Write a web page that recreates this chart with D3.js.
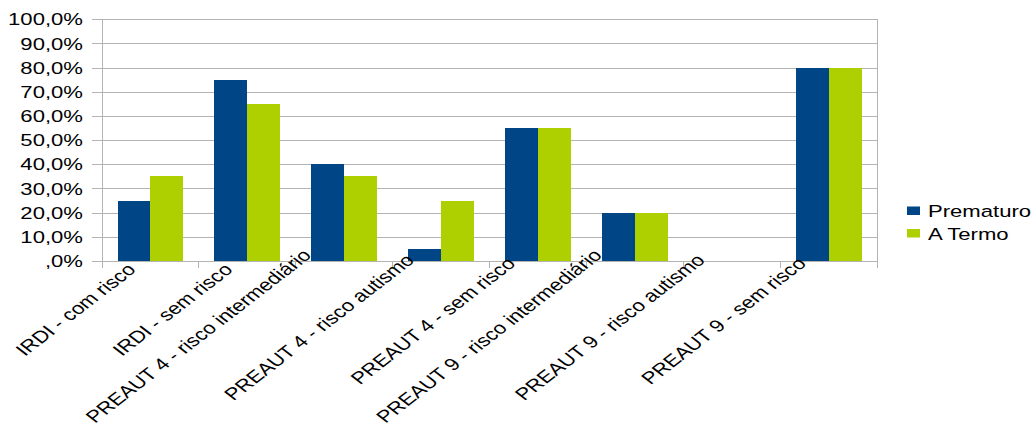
<!DOCTYPE html>
<html>
<head>
<meta charset="utf-8">
<script src="https://cdn.jsdelivr.net/npm/d3@7"></script>
<style>
  html, body { margin: 0; padding: 0; background: #ffffff; }
  svg { display: block; }
  text { font-family: "Liberation Sans", Arial, sans-serif; fill: #000; }
</style>
</head>
<body>
<svg id="chart" width="1036" height="429"></svg>
<script>
// Categories along the x axis
const categories = [
  "IRDI - com risco",
  "IRDI - sem risco",
  "PREAUT 4 - risco intermediário",
  "PREAUT 4 - risco autismo",
  "PREAUT 4 - sem risco",
  "PREAUT 9 - risco intermediário",
  "PREAUT 9 - risco autismo",
  "PREAUT 9 - sem risco"
];
// Series (percent)
const seriesNames = ["Prematuro", "A Termo"];
const prematuro = [25, 75, 40, 5, 55, 20, 0, 80];
const aTermo = [35, 65, 35, 25, 55, 20, 0, 80];
const seriesColors = ["#004586", "#aecf00"];
// Y axis ticks
const yTicks = [0, 10, 20, 30, 40, 50, 60, 70, 80, 90, 100];
const yTickLabels = [",0%", "10,0%", "20,0%", "30,0%", "40,0%", "50,0%", "60,0%", "70,0%", "80,0%", "90,0%", "100,0%"];

const seriesValues = [prematuro, aTermo];

const svg = d3.select("#chart");
const plot = { left: 102, right: 877, top: 19.3, bottom: 261 };
const stretch = 1.3;       // horizontal stretch applied to all text
const fontSize = 17;
const gridColor = "#b3b3b3";

const x = d3.scaleBand().domain(categories).range([plot.left, plot.right]).paddingInner(0).paddingOuter(0);
const bw = x.bandwidth();
const x1 = d3.scaleBand().domain(seriesNames).range([bw * 0.16, bw * 0.84]).padding(0);
const y = d3.scaleLinear().domain([0, 100]).range([plot.bottom, plot.top]);

// Horizontal gridlines + y tick marks
const yAxis = d3.axisLeft(y).tickValues(yTicks).tickSize(10).tickFormat("");
const gy = svg.append("g").attr("transform", `translate(${plot.left},0)`).call(yAxis);
gy.select(".domain").remove();
gy.selectAll(".tick line").attr("stroke", gridColor).attr("shape-rendering", "crispEdges");
gy.selectAll(".tick").append("line")
  .attr("x1", 0).attr("x2", plot.right - plot.left)
  .attr("stroke", gridColor).attr("shape-rendering", "crispEdges");

// y tick labels
svg.append("g").selectAll("text")
  .data(yTicks)
  .join("text")
  .attr("transform", d => `translate(83,${y(d)}) scale(${stretch},1)`)
  .attr("text-anchor", "end")
  .attr("dy", "0.36em")
  .style("font-size", fontSize + "px")
  .text((d, i) => yTickLabels[i]);

// Left axis line and right border
[plot.left, plot.right].forEach(px => {
  svg.append("line")
    .attr("x1", px).attr("x2", px)
    .attr("y1", plot.top).attr("y2", plot.bottom)
    .attr("stroke", gridColor).attr("shape-rendering", "crispEdges");
});

// Category boundary ticks under the x axis
const bounds = categories.map(c => x(c)).concat([plot.right]);
svg.append("g").selectAll("line")
  .data(bounds)
  .join("line")
  .attr("x1", d => d).attr("x2", d => d)
  .attr("y1", plot.bottom).attr("y2", plot.bottom + 7)
  .attr("stroke", gridColor).attr("shape-rendering", "crispEdges");

// Bars
const groups = svg.append("g").selectAll("g")
  .data(categories)
  .join("g")
  .attr("transform", c => `translate(${x(c)},0)`);
groups.selectAll("rect")
  .data((c, i) => seriesNames.map((s, k) => ({ s, v: seriesValues[k][i], k })))
  .join("rect")
  .attr("x", d => x1(d.s))
  .attr("width", x1.bandwidth())
  .attr("y", d => y(d.v))
  .attr("height", d => y(0) - y(d.v))
  .attr("fill", d => seriesColors[d.k])
  .attr("shape-rendering", "crispEdges");

// X axis line
svg.append("line")
  .attr("x1", plot.left).attr("x2", plot.right)
  .attr("y1", plot.bottom).attr("y2", plot.bottom)
  .attr("stroke", gridColor).attr("shape-rendering", "crispEdges");

// Rotated category labels (longer labels sit further up-left)
const xl = svg.append("g");
xl.selectAll("text")
  .data(categories)
  .join("text")
  .style("font-size", fontSize + "px")
  .attr("text-anchor", "end")
  .text(d => d)
  .each(function (d) {
    const w = this.getComputedTextLength();
    const off = 25 + 0.158 * (w - 182);
    const top = 259.2 - 0.1245 * (w - 182);
    const cx = x(d) + bw / 2;
    d3.select(this).attr("transform",
      `translate(${cx - off + 2},${top + 4}) scale(${stretch},1) rotate(-45)`);
  });

// Legend
const legend = svg.append("g");
seriesNames.forEach((s, i) => {
  const ly = 211 + i * 22.5;
  legend.append("rect")
    .attr("x", 907).attr("y", ly - 4.5)
    .attr("width", 13).attr("height", 8.5)
    .attr("fill", seriesColors[i]);
  legend.append("text")
    .attr("transform", `translate(928,${ly}) scale(${stretch},1)`)
    .attr("dy", "0.36em")
    .style("font-size", fontSize + "px")
    .text(s);
});
</script>
</body>
</html>
